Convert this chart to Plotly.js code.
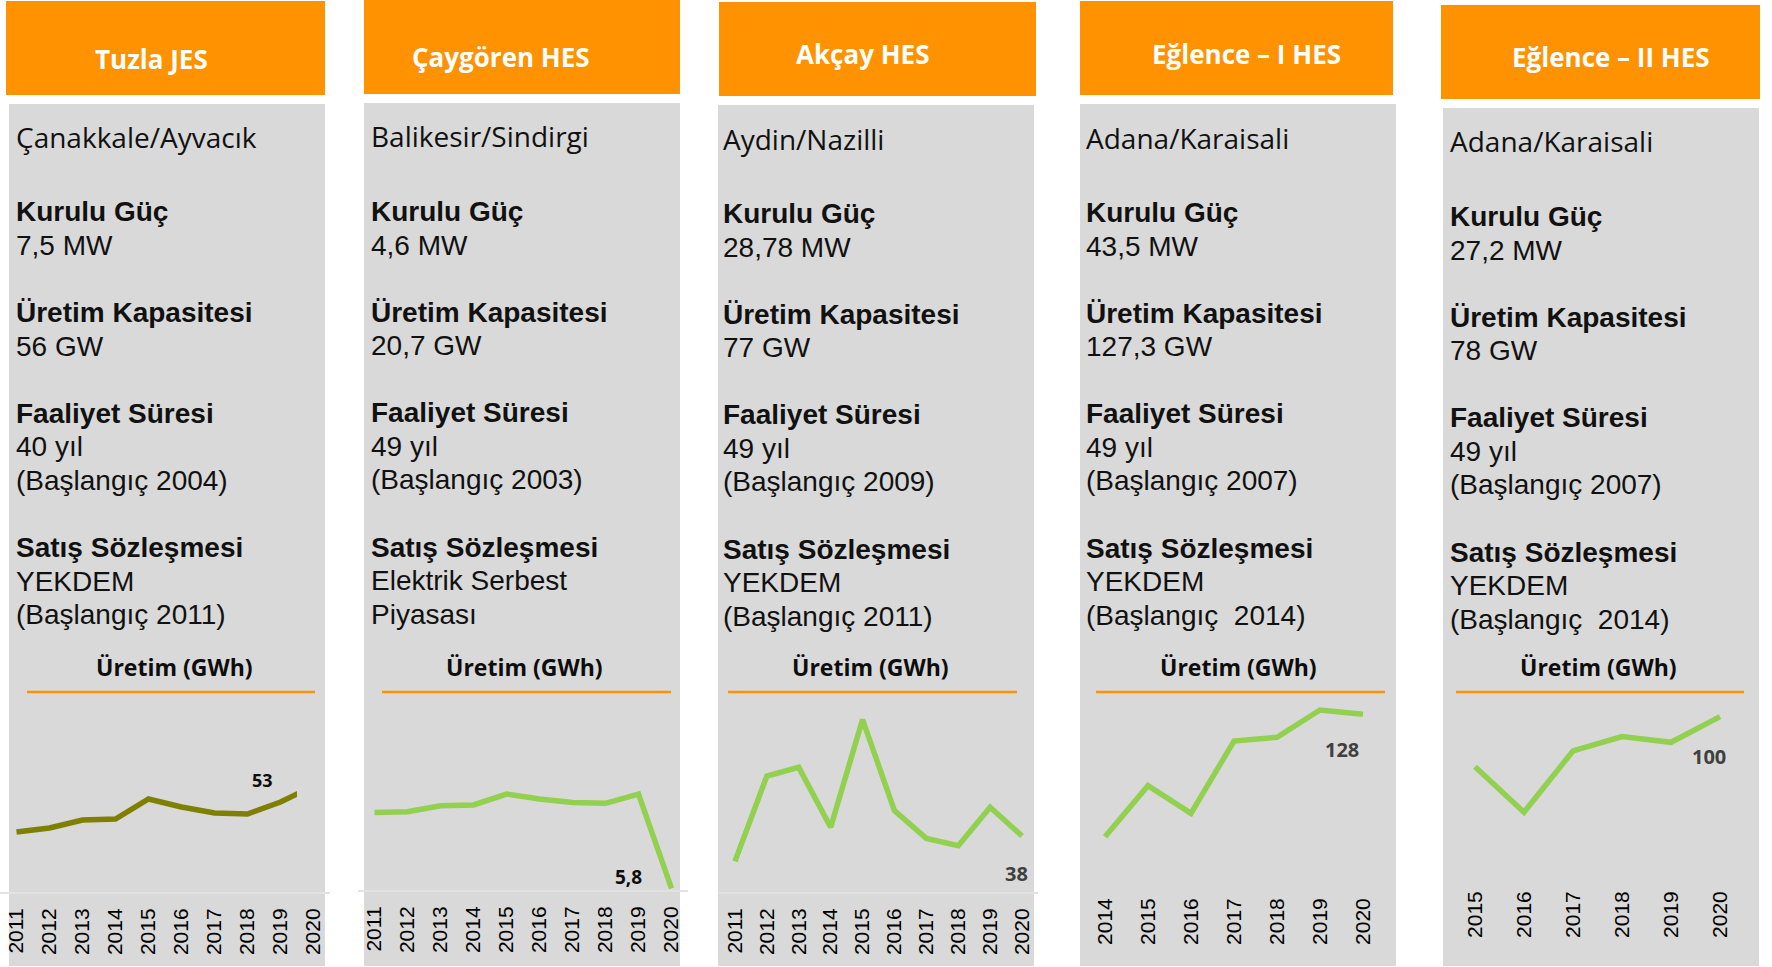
<!DOCTYPE html>
<html><head><meta charset="utf-8">
<script src="https://cdn.plot.ly/plotly-3.0.1.min.js"></script>
<style>html,body{margin:0;padding:0;background:#fff}</style>
</head><body><div id="chart" style="width:1772px;height:967px"></div>
<script>
// ---------- DATA ----------
const titles = ["Tuzla JES", "Çaygören HES", "Akçay HES", "Eğlence – I HES", "Eğlence – II HES"];
const locations = ["Çanakkale/Ayvacık", "Balikesir/Sindirgi", "Aydin/Nazilli", "Adana/Karaisali", "Adana/Karaisali"];
const installedPower = ["7,5 MW", "4,6 MW", "28,78 MW", "43,5 MW", "27,2 MW"];
const productionCapacity = ["56 GW", "20,7 GW", "77 GW", "127,3 GW", "78 GW"];
const operatingLife = ["40 yıl", "49 yıl", "49 yıl", "49 yıl", "49 yıl"];
const operatingStart = ["(Başlangıç 2004)", "(Başlangıç 2003)", "(Başlangıç 2009)", "(Başlangıç 2007)", "(Başlangıç 2007)"];
const contractLine1 = ["YEKDEM", "Elektrik Serbest", "YEKDEM", "YEKDEM", "YEKDEM"];
const contractLine2 = ["(Başlangıç 2011)", "Piyasası", "(Başlangıç 2011)", "(Başlangıç\u00A0\u00A02014)", "(Başlangıç\u00A0\u00A02014)"];
const headings = ["Kurulu Güç", "Üretim Kapasitesi", "Faaliyet Süresi", "Satış Sözleşmesi"];
const chartTitle = "Üretim (GWh)";

const yearsTuzla = [2011, 2012, 2013, 2014, 2015, 2016, 2017, 2018, 2019, 2020];
const prodTuzla = [30, 32, 36, 36.5, 46.5, 42.5, 39.5, 39, 45, 53];
const yearsCaygoren = [2011, 2012, 2013, 2014, 2015, 2016, 2017, 2018, 2019, 2020];
const prodCaygoren = [14.8, 14.9, 15.6, 15.7, 17.0, 16.4, 16.0, 15.9, 17.0, 5.8];
const yearsAkcay = [2011, 2012, 2013, 2014, 2015, 2016, 2017, 2018, 2019, 2020];
const prodAkcay = [20.8, 78.7, 84.6, 43.9, 117, 55.2, 36.4, 31.4, 57.5, 38];
const yearsEglence1 = [2014, 2015, 2016, 2017, 2018, 2019, 2020];
const prodEglence1 = [37.3, 75.1, 54.6, 108.2, 111, 131.2, 128];
const yearsEglence2 = [2015, 2016, 2017, 2018, 2019, 2020];
const prodEglence2 = [69.4, 41.5, 79, 87.8, 84.3, 100];

const seriesYears = [yearsTuzla, yearsCaygoren, yearsAkcay, yearsEglence1, yearsEglence2];
const seriesValues = [prodTuzla, prodCaygoren, prodAkcay, prodEglence1, prodEglence2];

// ---------- LAYOUT (pixel geometry) ----------
const W = 1772, H = 967;
const px = x => x / W;
const py = y => 1 - y / H;
const ORANGE = "#FF9200", GRAY = "#D9D9D9";
const LINE_STEP = 33.56;
const BODY_FONT = "Liberation Sans, Arial";

const P = [
  {orange:[6,325,1,95], gray:[9,325,104,966], tX:151, tY:59, textX:14, locY:137, bodyY:212, subX:174, rule:[27,315],
   dom:[0,330], xr:[2010.5,2020.5], ydom:[700,892], yr:[0,96], line:"#808000", showLine:true,
   lab:{dx:-51.5, dy:6, size:18, color:"#0d0d0d"}},
  {orange:[364,680,0,94], gray:[364,680,103,966], tX:501, tY:57.5, textX:369, locY:136, bodyY:211.5, subX:524, rule:[382,671],
   dom:[358,688], xr:[2010.5,2020.5], ydom:[700,890], yr:[5.6,28.17], line:"#92D050", showLine:true,
   lab:{dx:-43, dy:11.6, size:19, color:"#0d0d0d"}},
  {orange:[719,1036,2,96], gray:[718,1034,105,966], tX:862, tY:54, textX:721, locY:139, bodyY:213.5, subX:870, rule:[728,1017],
   dom:[719,1038], xr:[2010.5,2020.5], ydom:[700,892], yr:[0,130.3], line:"#92D050", showLine:true,
   lab:{dx:-6, dy:-37, size:20, color:"#404040"}},
  {orange:[1080,1393,1,95], gray:[1080,1396,104,966], tX:1246, tY:54, textX:1084, locY:138, bodyY:212.5, subX:1238, rule:[1096,1385],
   dom:[1083.5,1384.5], xr:[2013.5,2020.5], ydom:[700,887], yr:[0,138.6], line:"#92D050", showLine:false,
   lab:{dx:-21, dy:-35, size:20, color:"#404040"}},
  {orange:[1441,1760,5,99], gray:[1443,1759,108,966], tX:1611, tY:57.5, textX:1448, locY:141, bodyY:216.5, subX:1598, rule:[1456,1744],
   dom:[1450.5,1744.5], xr:[2014.5,2020.5], ydom:[700,880], yr:[0,110.2], line:"#92D050", showLine:false,
   lab:{dx:-11, dy:-40, size:20, color:"#404040"}}
];

const shapes = [], annotations = [], traces = [];
const layout = {
  width: W, height: H, margin: {l:0, r:0, t:0, b:0},
  paper_bgcolor: "#ffffff", plot_bgcolor: "rgba(0,0,0,0)",
  showlegend: false, hovermode: false
};

P.forEach((p, i) => {
  const n = i === 0 ? "" : String(i + 1);
  // boxes
  shapes.push({type:"rect", xref:"paper", yref:"paper", layer:"below", line:{width:0}, fillcolor:ORANGE,
    x0:px(p.orange[0]), x1:px(p.orange[1]), y0:py(p.orange[3]), y1:py(p.orange[2])});
  shapes.push({type:"rect", xref:"paper", yref:"paper", layer:"below", line:{width:0}, fillcolor:GRAY,
    x0:px(p.gray[0]), x1:px(p.gray[1]), y0:py(p.gray[3]), y1:py(p.gray[2])});
  shapes.push({type:"line", xref:"paper", yref:"paper", layer:"below", line:{width:2.5, color:ORANGE},
    x0:px(p.rule[0]), x1:px(p.rule[1]), y0:py(692), y1:py(692)});

  // header
  annotations.push({xref:"paper", yref:"paper", x:px(p.tX), y:py(p.tY), xanchor:"center", yanchor:"middle",
    showarrow:false, text:"<b>" + titles[i] + "</b>", font:{family:"Open Sans", size:26, color:"#ffffff"}});
  // location
  annotations.push({xref:"paper", yref:"paper", x:px(p.textX), y:py(p.locY), xanchor:"left", yanchor:"middle",
    showarrow:false, text:locations[i], font:{family:"Open Sans", size:28, color:"#111111"}});
  // body, one annotation per line (blank lines keep their slot)
  const body = [
    "<b>" + headings[0] + "</b>", installedPower[i], "",
    "<b>" + headings[1] + "</b>", productionCapacity[i], "",
    "<b>" + headings[2] + "</b>", operatingLife[i], operatingStart[i], "",
    "<b>" + headings[3] + "</b>", contractLine1[i], contractLine2[i]
  ];
  body.forEach((t, k) => {
    if (!t) return;
    annotations.push({xref:"paper", yref:"paper", x:px(p.textX), y:py(p.bodyY + k * LINE_STEP),
      xanchor:"left", yanchor:"middle", align:"left", showarrow:false, text:t,
      font:{family:BODY_FONT, size:28, color:"#111111"}});
  });
  // chart subtitle
  annotations.push({xref:"paper", yref:"paper", x:px(p.subX), y:py(667), xanchor:"center", yanchor:"middle",
    showarrow:false, text:"<b>" + chartTitle + "</b>", font:{family:"Open Sans", size:23, color:"#0d0d0d"}});

  // axes
  const yrs = seriesYears[i], vals = seriesValues[i];
  layout["xaxis" + n] = {
    domain:[px(p.dom[0]), px(p.dom[1])], range:p.xr, anchor:"y" + n, fixedrange:true,
    tickmode:"array", tickvals:yrs, ticktext:yrs.map(String), tickangle:-90, ticks:"",
    tickfont:{family:BODY_FONT, size:21, color:"#000000"},
    showgrid:false, zeroline:false, showline:p.showLine, linecolor:"#E2E2E2", linewidth:2,
    ticklabelstandoff: 6
  };
  layout["yaxis" + n] = {
    domain:[py(p.ydom[1]), py(p.ydom[0])], range:p.yr, anchor:"x" + n, visible:false, fixedrange:true
  };

  // series
  let xa = "x" + n;
  if (i === 0) xa = "x6"; // Tuzla line is cut off at the plot edge in the source
  traces.push({type:"scatter", mode:"lines", x:yrs, y:vals, xaxis:xa, yaxis:"y" + n,
    line:{color:p.line, width:5.5}, hoverinfo:"skip"});

  // last value label
  const lastV = vals[vals.length - 1];
  annotations.push({xref:"x" + n, yref:"y" + n, x:yrs[yrs.length - 1], y:lastV, xshift:p.lab.dx, yshift:p.lab.dy,
    xanchor:"center", yanchor:"middle", showarrow:false, text:"<b>" + String(lastV).replace(".", ",") + "</b>",
    font:{family:"Open Sans", size:p.lab.size, color:p.lab.color}});
});

// hidden axis sharing the Tuzla scale, with its plot area ending where the source line is cut
layout.xaxis6 = {domain:[px(0), px(297)], range:[2010.5, 2019.5], anchor:"y", visible:false, fixedrange:true};

layout.shapes = shapes;
layout.annotations = annotations;

Plotly.newPlot("chart", traces, layout, {staticPlot:true, displayModeBar:false});
</script>
</body></html>
